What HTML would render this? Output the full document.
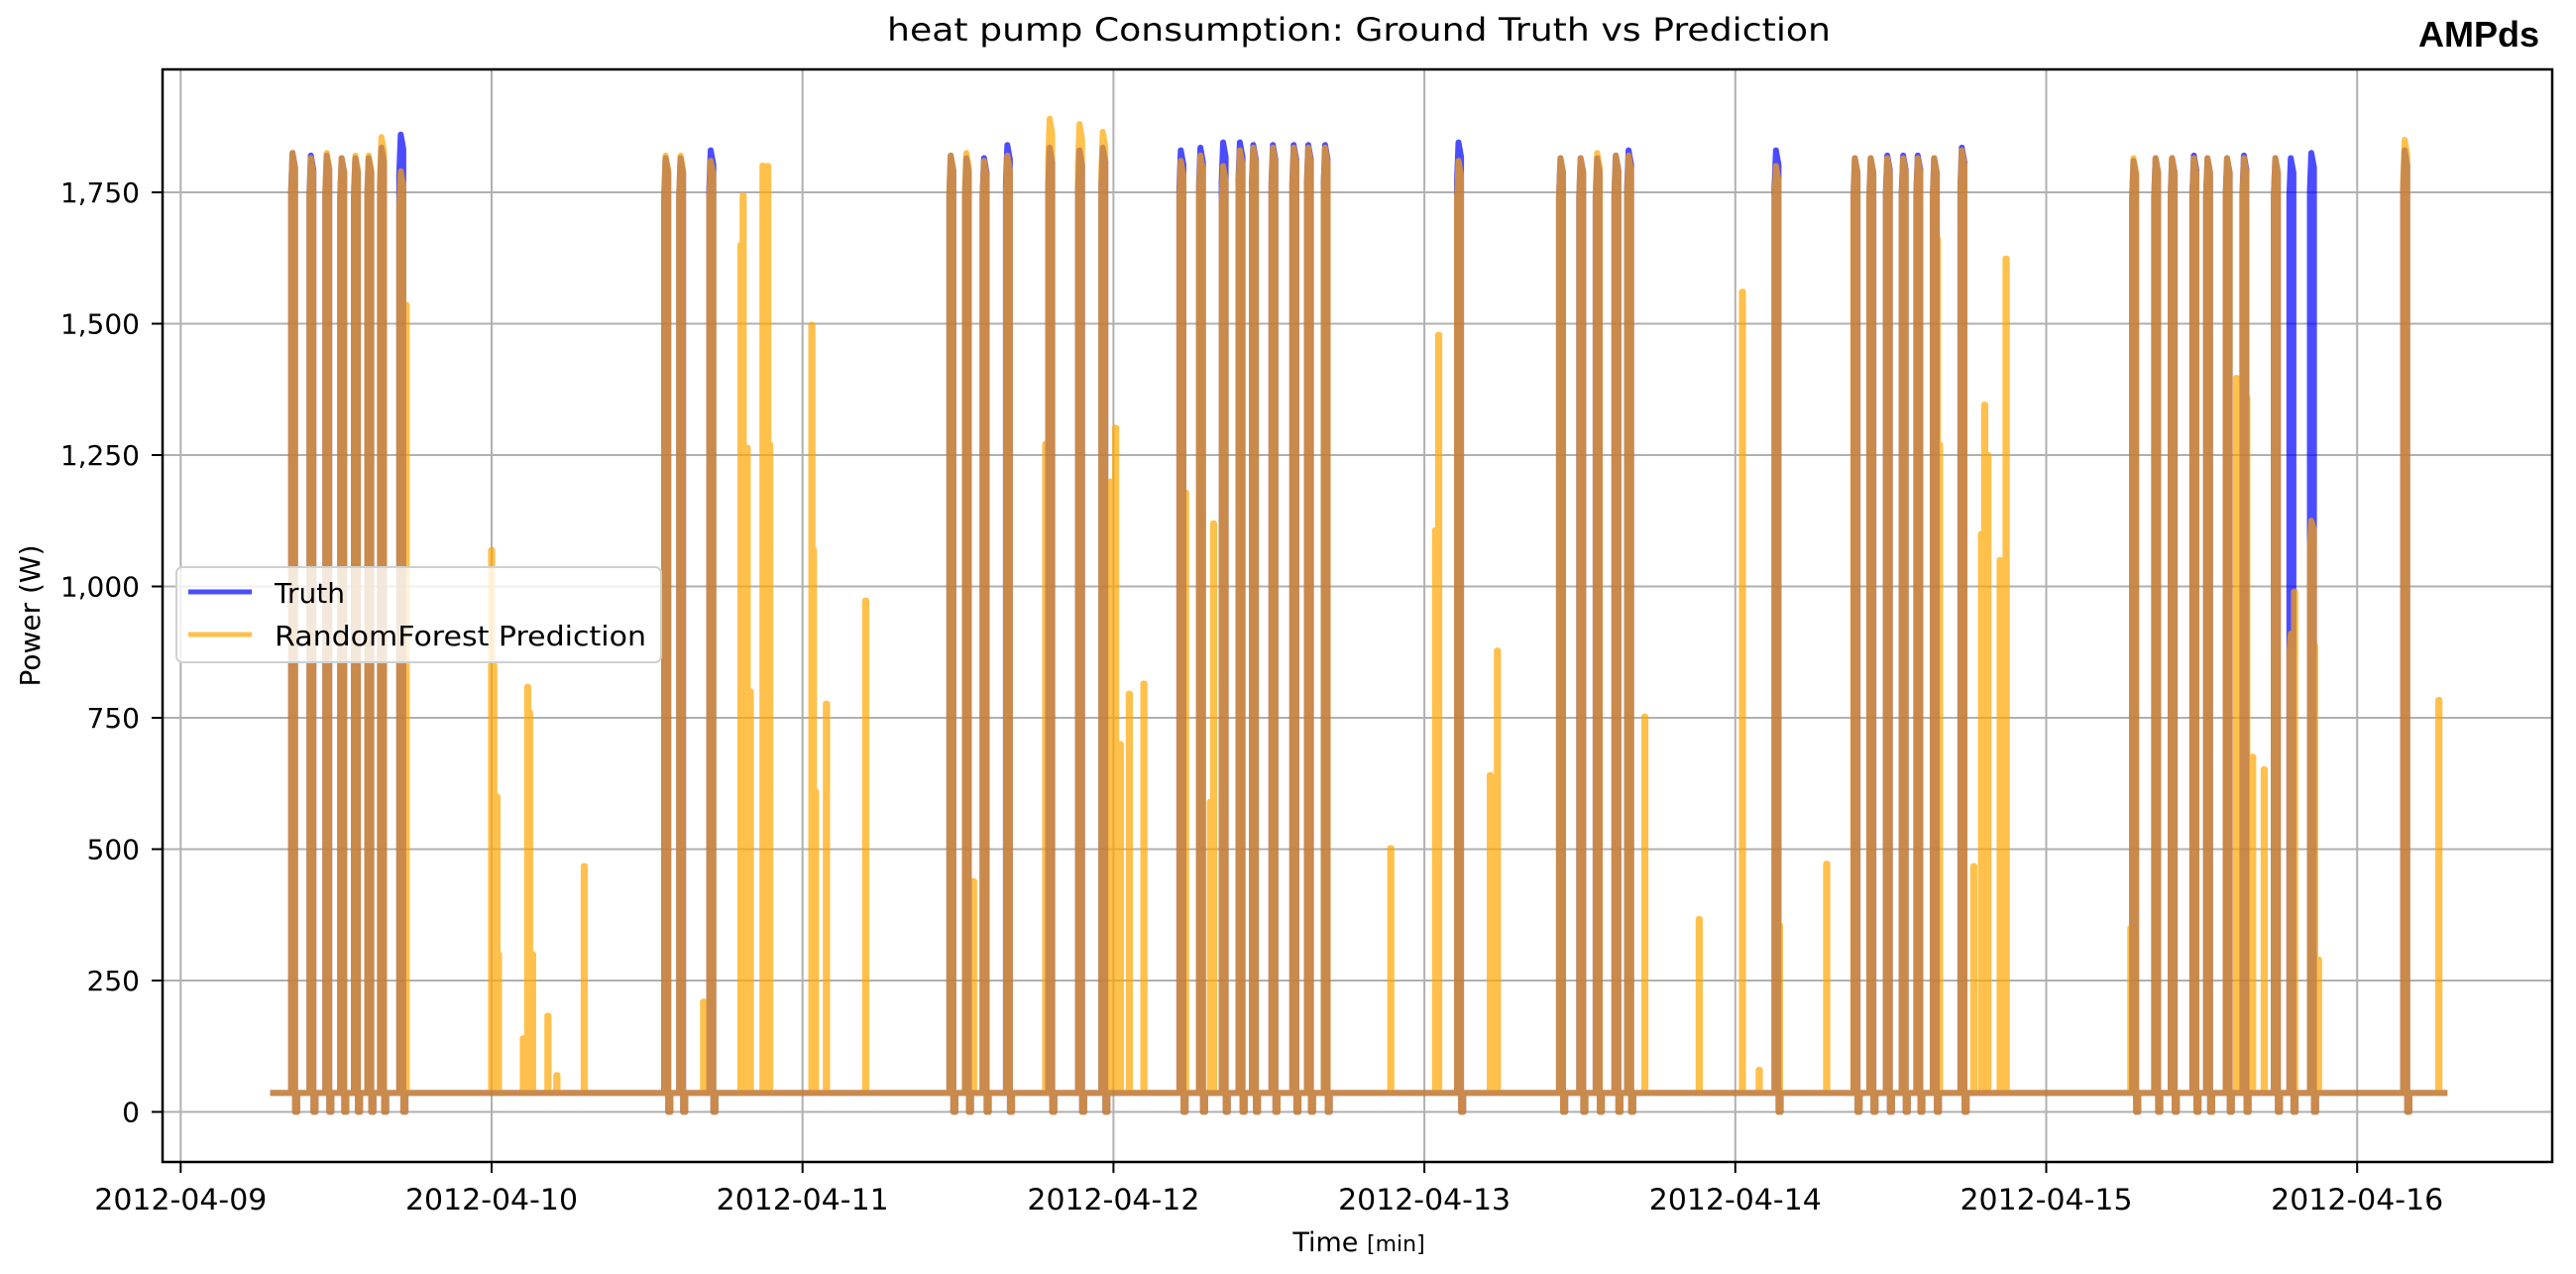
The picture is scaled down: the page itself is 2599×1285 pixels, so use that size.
<!DOCTYPE html>
<html><head><meta charset="utf-8"><style>
html,body{margin:0;padding:0;background:#fff;}
svg{display:block;font-family:"DejaVu Sans","Liberation Sans",sans-serif;}
</style></head><body>
<svg id="chart" width="2599" height="1285" viewBox="0 0 2599 1285" xmlns="http://www.w3.org/2000/svg">
<rect width="2599" height="1285" fill="#fff"/>
<text x="1371" y="41" text-anchor="middle" font-size="32" textLength="952" lengthAdjust="spacingAndGlyphs" fill="#000">heat pump Consumption: Ground Truth vs Prediction</text>
<text x="2562" y="47" text-anchor="end" font-size="36" font-weight="bold" font-family="Liberation Sans, sans-serif" fill="#000">AMPds</text>
<defs><clipPath id="plotclip"><rect x="164" y="70" width="2411" height="1102"/></clipPath></defs>
<g id="grid"></g>
<g id="series" clip-path="url(#plotclip)"></g>
<rect x="164" y="70" width="2411" height="1102" fill="none" stroke="#000" stroke-width="2.5"/>
<g id="axes"></g>
<text x="0" y="0" transform="translate(40,621) rotate(-90)" text-anchor="middle" font-size="28" fill="#000">Power (W)</text>
<text x="1371" y="1262" text-anchor="middle" fill="#000"><tspan font-size="27">Time </tspan><tspan font-size="22">[min]</tspan></text>
<g>
<rect x="178" y="572" width="489" height="96" rx="6" fill="#fff" fill-opacity="0.8" stroke="#d0d0d0" stroke-width="2"/>
<line x1="190" y1="597" x2="254" y2="597" stroke="rgba(0,0,255,0.7)" stroke-width="5"/>
<text x="277" y="608" font-size="28" fill="#000">Truth</text>
<line x1="190" y1="640" x2="254" y2="640" stroke="rgba(255,165,0,0.7)" stroke-width="5"/>
<text x="277" y="651" font-size="28" textLength="375" lengthAdjust="spacingAndGlyphs" fill="#000">RandomForest Prediction</text>
</g>
</svg>
<script>
// ---- data (days since 2012-04-09, watts) ----
const pulseT = [0.355,0.414,0.465,0.513,0.557,0.600,0.641,0.703,1.555,1.603,1.700,2.472,2.522,2.579,2.654,2.790,2.886,2.961,3.212,3.275,3.348,3.402,3.445,3.508,3.575,3.622,3.676,4.105,4.433,4.498,4.551,4.611,4.652,5.126,5.380,5.431,5.484,5.535,5.582,5.635,5.724,6.276,6.347,6.400,6.470,6.514,6.577,6.631,6.732,6.782,6.848,7.148];
const truthPeak = [1825,1820,1820,1815,1815,1815,1835,1860,1815,1815,1830,1820,1815,1815,1840,1835,1830,1835,1830,1835,1845,1845,1840,1840,1840,1840,1840,1845,1815,1815,1815,1820,1830,1830,1815,1815,1820,1820,1820,1815,1835,1810,1815,1815,1820,1815,1815,1820,1815,1815,1825,1830];
const predPeak = [1825,1815,1825,1815,1820,1820,1855,1790,1820,1820,1810,1820,1825,1810,1820,1890,1880,1865,1810,1820,1800,1830,1835,1835,1835,1835,1835,1810,1815,1815,1825,1820,1820,1800,1815,1815,1815,1815,1815,1815,1830,1815,1815,1815,1815,1815,1815,1815,1815,910,1125,1850];
const spikeT = [0.723,0.998,1.005,1.015,1.020,1.100,1.114,1.120,1.130,1.179,1.208,1.296,1.680,1.800,1.807,1.820,1.830,1.871,1.886,1.892,2.028,2.033,2.040,2.075,2.201,2.548,2.780,2.990,3.005,3.010,3.020,3.049,3.096,3.230,3.310,3.320,3.890,4.034,4.044,4.210,4.233,4.707,4.882,5.021,5.075,5.140,5.292,5.648,5.655,5.765,5.790,5.800,5.810,5.850,5.869,6.270,6.610,6.643,6.662,6.699,6.797,6.861,6.874,7.261];
const spikeH = [1536,1069,850,600,300,140,809,760,300,183,70,468,210,1650,1744,1264,800,1801,1800,1270,1498,1070,610,777,973,439,1271,1200,1302,300,700,796,815,1179,590,1120,502,1107,1479,641,878,752,367,1561,80,355,472,1662,1270,468,1100,1346,1250,1050,1624,350,1397,1360,676,652,990,888,290,784];
const baseline = 36;
const dataStart = 0.288, dataEnd = 7.29;
const yTicks = [0,250,500,750,1000,1250,1500,1750];
const yTickLabels = ["0","250","500","750","1,000","1,250","1,500","1,750"];
const xTicks = [0,1,2,3,4,5,6,7];
const xTickLabels = ["2012-04-09","2012-04-10","2012-04-11","2012-04-12","2012-04-13","2012-04-14","2012-04-15","2012-04-16"];

// ---- axes ----
const NS = "http://www.w3.org/2000/svg";
function xs(d){ return 182.3 + 313.7*d; }
function ys(v){ return 1121.5 - 0.53*v; }
function mk(tag, attrs, parent){ const e=document.createElementNS(NS,tag); for(const k in attrs) e.setAttribute(k,attrs[k]); parent.appendChild(e); return e; }

const grid = document.getElementById('grid');
const axes = document.getElementById('axes');
yTicks.forEach((v,i)=>{
  const gl = mk('line',{x1:164,x2:2575,y1:ys(v),y2:ys(v),stroke:'#b0b0b0','stroke-width':2},grid);
  
  
  const tk = mk('line',{x1:153,x2:164,y1:ys(v),y2:ys(v),stroke:'#000','stroke-width':2},axes);
  
  
  const t = mk('text',{x:141,y:ys(v)+10,'text-anchor':'end','font-size':28,fill:'#000'},axes);
  t.textContent = yTickLabels[i];
  
  
});
xTicks.forEach((d,i)=>{
  const gl = mk('line',{x1:xs(d),x2:xs(d),y1:70,y2:1172,stroke:'#b0b0b0','stroke-width':2},grid);
  
  
  const tk = mk('line',{x1:xs(d),x2:xs(d),y1:1172,y2:1183,stroke:'#000','stroke-width':2},axes);
  
  
  const t = mk('text',{x:xs(d),y:1220,'text-anchor':'middle','font-size':29,textLength:174,lengthAdjust:'spacingAndGlyphs',fill:'#000'},axes);
  t.textContent = xTickLabels[i];
  
  
});

// ---- series ----
const W = 0.013, DW = 0.007, SW = 0.004;
function buildSeries(peaks, withSpikes){
  const ev = [];
  pulseT.forEach((t,i)=>ev.push({t:t,type:'p',h:peaks[i]}));
  if(withSpikes) spikeT.forEach((t,i)=>ev.push({t:t,type:'s',h:spikeH[i]}));
  ev.sort((a,b)=>a.t-b.t);
  const pts = [[dataStart,baseline]];
  ev.forEach(e=>{
    if(e.type==='p'){
      const P=e.h;
      pts.push([e.t,baseline],[e.t,P*0.96],[e.t+W*0.35,P],[e.t+W,P*0.985],[e.t+W,0],[e.t+W+DW,0],[e.t+W+DW,baseline]);
    } else {
      pts.push([e.t,baseline],[e.t,e.h],[e.t+SW,e.h],[e.t+SW,baseline]);
    }
  });
  pts.push([dataEnd,baseline]);
  return pts.map(p=>xs(p[0]).toFixed(1)+','+ys(p[1]).toFixed(1)).join(' ');
}
const series = document.getElementById('series');
const truthLine = mk('polyline',{points:buildSeries(truthPeak,false),fill:'none',stroke:'#0000ff','stroke-opacity':0.7,'stroke-width':6,'stroke-linejoin':'round'},series);


const predLine = mk('polyline',{points:buildSeries(predPeak,true),fill:'none',stroke:'#ffa500','stroke-opacity':0.7,'stroke-width':6,'stroke-linejoin':'round'},series);


</script>
</body></html>
